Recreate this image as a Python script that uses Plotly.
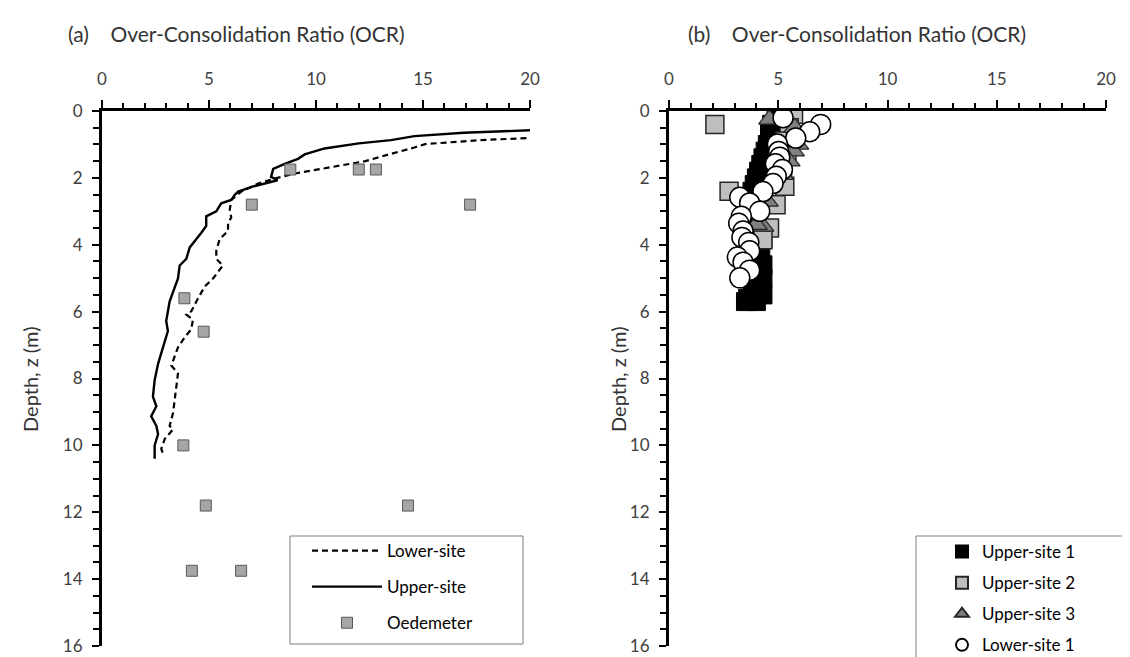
import plotly.graph_objects as go

# ---------------- Panel (a) data ----------------
lower_ocr = [20.3, 17.7, 15.1, 14.6, 13.4, 12.3, 10.7, 9.0, 8.07, 7.29, 6.51, 6.04, 5.97, 6.04,
             5.89, 5.89, 5.5, 5.34, 5.34, 5.65, 5.19, 4.8, 4.49, 4.17, 3.94, 4.25, 4.17, 3.86,
             3.55, 3.4, 3.24, 3.55, 3.47, 3.4, 3.32, 3.16, 3.32, 2.93, 2.77, 2.85]
lower_z = [0.80, 0.87, 0.99, 1.09, 1.30, 1.50, 1.68, 1.87, 2.02, 2.17, 2.41, 2.66, 2.95, 3.19,
           3.34, 3.59, 3.83, 4.18, 4.42, 4.62, 5.01, 5.25, 5.60, 5.99, 6.09, 6.24, 6.53, 6.77,
           7.07, 7.36, 7.61, 7.85, 8.24, 8.63, 9.03, 9.42, 9.52, 9.81, 10.10, 10.25]

upper_ocr = [20.3, 19.0, 16.9, 14.6, 13.5, 12.0, 10.4, 9.47, 9.16, 8.54, 8.0, 7.9, 8.2, 7.1,
             6.36, 6.2, 6.04, 5.57, 5.34, 4.87, 4.87, 4.64, 4.33, 4.1, 3.94, 3.63, 3.55, 3.32,
             3.16, 3.0, 3.08, 2.85, 2.62, 2.46, 2.38, 2.54, 2.3, 2.54, 2.62, 2.46, 2.46]
upper_z = [0.57, 0.60, 0.65, 0.75, 0.87, 0.97, 1.12, 1.30, 1.43, 1.58, 1.73, 1.97, 2.07, 2.25,
           2.41, 2.51, 2.66, 2.76, 3.00, 3.15, 3.44, 3.64, 3.88, 4.08, 4.42, 4.62, 5.01, 5.40,
           5.70, 6.28, 6.58, 7.07, 7.56, 8.05, 8.54, 8.83, 9.13, 9.42, 9.66, 10.00, 10.40]

oed_ocr = [8.8, 12.0, 12.8, 7.0, 17.2, 3.85, 4.75, 3.8, 4.85, 14.3, 4.2, 6.5]
oed_z = [1.75, 1.75, 1.75, 2.8, 2.8, 5.6, 6.6, 10.0, 11.8, 11.8, 13.75, 13.75]

# ---------------- Panel (b) data ----------------
us1_ocr = [4.9, 4.7, 4.6, 4.6, 4.5, 4.4, 4.3, 4.2, 4.1, 4.0, 3.9, 3.8, 3.7, 3.8, 3.9, 4.0,
           4.1, 4.2, 4.3, 4.1, 4.0, 4.2, 4.3, 4.2, 4.3, 4.1, 3.8, 4.3, 3.6, 4.0, 3.5]
us1_z = [0.2, 0.4, 0.6, 0.8, 1.0, 1.2, 1.4, 1.6, 1.8, 2.0, 2.2, 2.4, 2.6, 2.8, 3.0, 3.2,
         3.4, 3.6, 3.8, 4.0, 4.2, 4.4, 4.6, 4.8, 5.0, 5.2, 5.4, 5.5, 5.6, 5.7, 5.7]

us2_ocr = [5.7, 2.1, 5.5, 5.3, 5.4, 5.2, 5.3, 2.75, 4.9, 4.6, 4.3]
us2_z = [0.1, 0.4, 0.5, 0.9, 1.3, 1.7, 2.25, 2.4, 2.8, 3.5, 3.85]

us3_ocr = [4.6, 5.75, 5.9, 5.7, 5.5, 5.2, 4.15, 4.5, 4.3, 4.0]
us3_z = [0.25, 0.5, 1.0, 1.2, 1.5, 1.9, 2.65, 2.7, 3.45, 3.4]

ls1_ocr = [5.22, 6.94, 6.44, 5.8, 4.96, 5.02, 5.07, 4.87, 5.19, 4.91, 4.76, 4.3, 3.24, 3.69,
           4.15, 3.31, 3.19, 3.39, 3.34, 3.65, 3.69, 3.13, 3.39, 3.69, 3.24]
ls1_z = [0.2, 0.4, 0.62, 0.81, 0.99, 1.21, 1.38, 1.58, 1.75, 1.95, 2.17, 2.41, 2.58, 2.75,
         3.0, 3.15, 3.36, 3.59, 3.78, 3.93, 4.18, 4.37, 4.52, 4.76, 4.99]

x_title = "Over-Consolidation Ratio (OCR)"
y_title = "Depth, z (m)"

FONT = "Lato"
TXT = "#333333"
TICK = "#404040"

fig = go.Figure()

# Panel (a)
fig.add_trace(go.Scatter(x=lower_ocr, y=lower_z, mode="lines", name="Lower-site",
                         line=dict(color="black", width=2.2, dash="6px,4px"),
                         xaxis="x", yaxis="y", legend="legend", legendgroup="a1"))
fig.add_trace(go.Scatter(x=upper_ocr, y=upper_z, mode="lines", name="Upper-site",
                         line=dict(color="black", width=2.4),
                         xaxis="x", yaxis="y", legend="legend", legendgroup="a2"))
fig.add_trace(go.Scatter(x=oed_ocr, y=oed_z, mode="markers", name="Oedemeter",
                         marker=dict(symbol="square", size=11, color="#a6a6a6",
                                     line=dict(color="#595959", width=1)),
                         xaxis="x", yaxis="y", legend="legend", legendgroup="a3"))

# Panel (b)
fig.add_trace(go.Scatter(x=us1_ocr, y=us1_z, mode="markers", name="Upper-site 1",
                         marker=dict(symbol="square", size=18, color="black",
                                     line=dict(color="black", width=1)),
                         xaxis="x2", yaxis="y2", legend="legend2", legendgroup="b1"))
fig.add_trace(go.Scatter(x=us2_ocr, y=us2_z, mode="markers", name="Upper-site 2",
                         marker=dict(symbol="square", size=18, color="#bfbfbf",
                                     line=dict(color="#262626", width=1.5)),
                         xaxis="x2", yaxis="y2", legend="legend2", legendgroup="b2"))
fig.add_trace(go.Scatter(x=us3_ocr, y=us3_z, mode="markers", name="Upper-site 3",
                         marker=dict(symbol="triangle-up", size=19, color="#7f7f7f",
                                     line=dict(color="#262626", width=1.2)),
                         xaxis="x2", yaxis="y2", legend="legend2", legendgroup="b3"))
fig.add_trace(go.Scatter(x=ls1_ocr, y=ls1_z, mode="markers", name="Lower-site 1",
                         marker=dict(symbol="circle", size=20, color="white",
                                     line=dict(color="black", width=1.5)),
                         xaxis="x2", yaxis="y2", legend="legend2", legendgroup="b4"))

W, H = 1130, 657
def fx(px):
    return px / W
def fy(py):
    return 1 - py / H

xcommon = dict(range=[0, 20], side="top", dtick=5, tick0=0, ticks="outside", ticklen=8,
               tickwidth=2, tickcolor="black", showline=True, linewidth=3, linecolor="black",
               showgrid=False, zeroline=False, automargin=False, ticklabelstandoff=8,
               tickfont=dict(family=FONT, size=17, color=TICK),
               minor=dict(dtick=1, ticks="outside", ticklen=5, tickwidth=2, tickcolor="black",
                          showgrid=False))
ycommon = dict(range=[16, 0], dtick=2, tick0=0, ticks="outside", ticklen=7, tickwidth=2,
               tickcolor="black", showline=True, linewidth=3, linecolor="black",
               showgrid=False, zeroline=False, automargin=False, ticklabelstandoff=6,
               tickfont=dict(family=FONT, size=17, color=TICK),
               minor=dict(dtick=0.5, ticks="outside", ticklen=6, tickwidth=2,
                          tickcolor="black", showgrid=False))

legend_common = dict(bgcolor="rgba(0,0,0,0)", borderwidth=0,
                     font=dict(family=FONT, size=17, color="black"),
                     xanchor="left", yanchor="top", traceorder="grouped")

frame = dict(type="rect", xref="paper", yref="paper", line=dict(color="#7f7f7f", width=1),
             fillcolor="white", layer="below")

fig.update_layout(
    width=W, height=H,
    margin=dict(l=0, r=0, t=0, b=0),
    paper_bgcolor="white", plot_bgcolor="rgba(0,0,0,0)",
    font=dict(family=FONT, color=TXT),
    xaxis=dict(domain=[fx(94), fx(522)], anchor="y", **xcommon),
    yaxis=dict(domain=[fy(638), fy(103)], anchor="x", **ycommon),
    xaxis2=dict(domain=[fx(661), fx(1098)], anchor="y2", **xcommon),
    yaxis2=dict(domain=[fy(638), fy(103)], anchor="x2", **ycommon),
    legend=dict(x=fx(299), y=fy(525), tracegroupgap=11, itemwidth=70, **legend_common),
    legend2=dict(x=fx(934), y=fy(526), tracegroupgap=6, itemsizing="constant",
                 itemwidth=30, **legend_common),
    showlegend=True,
    shapes=[
        dict(x0=fx(282), x1=fx(515), y0=fy(636), y1=fy(528), **frame),
        dict(x0=fx(908), x1=fx(1127), y0=fy(656), y1=fy(528), **frame),
    ],
    annotations=[
        dict(text="(a)    " + x_title, x=fx(58), y=fy(25), xref="paper", yref="paper",
             xanchor="left", yanchor="middle", showarrow=False,
             font=dict(family=FONT, size=21, color=TXT)),
        dict(text="(b)    " + x_title, x=fx(678), y=fy(25), xref="paper", yref="paper",
             xanchor="left", yanchor="middle", showarrow=False,
             font=dict(family=FONT, size=21, color=TXT)),
        dict(text=y_title, x=fx(22), y=fy(372), xref="paper", yref="paper",
             textangle=-90, xanchor="center", yanchor="middle", showarrow=False,
             font=dict(family=FONT, size=20, color=TXT)),
        dict(text=y_title, x=fx(610), y=fy(372), xref="paper", yref="paper",
             textangle=-90, xanchor="center", yanchor="middle", showarrow=False,
             font=dict(family=FONT, size=20, color=TXT)),
    ],
)

fig.write_html("out.html")
